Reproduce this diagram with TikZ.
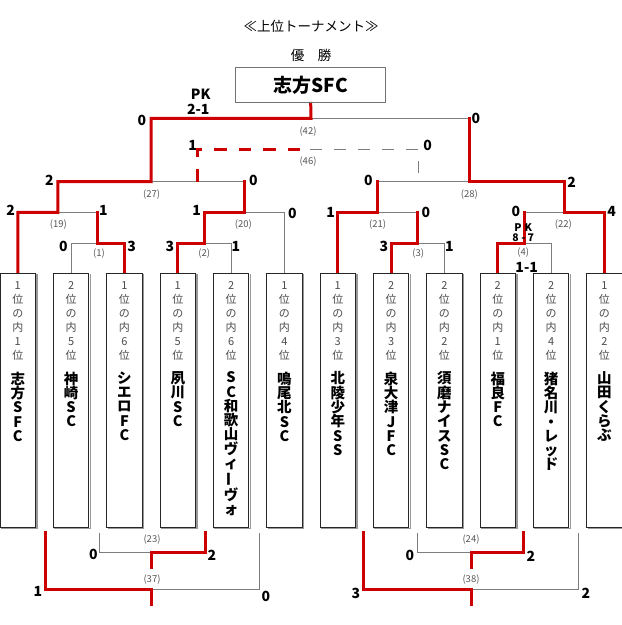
\documentclass[tikz,border=0pt]{standalone}
\usepackage{fontspec}
\newfontfamily\jp{Noto Sans CJK JP}
\usetikzlibrary{backgrounds}
\definecolor{wred}{RGB}{204,0,0}
\definecolor{lgray}{RGB}{125,125,125}
\definecolor{numgray}{RGB}{85,85,85}
\newcommand\tatebar{\rotatebox[origin=c]{90}{ー}}
\tikzset{
  win/.style={draw=wred, line width=3pt, line cap=rect, line join=miter},
  lose/.style={draw=lgray, line width=1.2pt},
  windash/.style={draw=wred, line width=3pt, dash pattern=on 12.5pt off 12pt},
  losedash/.style={draw=lgray, line width=1.2pt, dash pattern=on 12.3pt off 11.7pt},
  score/.style={font=\jp\bfseries\fontsize{14}{14}\selectfont, inner sep=0pt},
  small/.style={font=\jp\bfseries\fontsize{10.5}{11}\selectfont, inner sep=0pt},
  mno/.style={font=\jp\fontsize{9.5}{10}\selectfont, text=numgray, inner sep=0pt},
  teambox/.style={draw=black!85, line width=0.9pt, minimum width=35.6pt, minimum height=254pt, inner sep=0pt, fill=white},
  shadowln/.style={draw=black!40, line width=1.3pt},
  rank/.style={font=\jp\fontsize{11}{14}\selectfont, text=black!70, align=center, inner sep=0pt, anchor=north},
  tname/.style={font=\jp\bfseries\fontsize{14.5}{14.3}\selectfont, align=center, inner sep=0pt, anchor=north},
}
\begin{document}
\begin{tikzpicture}[x=1pt,y=-1pt]
\useasboundingbox (0,0) rectangle (622,625);

% titles
\node[font=\jp\fontsize{13.5}{14}\selectfont, inner sep=0pt] (title) at (311,26.7) {≪上位トーナメント≫};
\node[font=\jp\fontsize{13.5}{14}\selectfont, inner sep=0pt] (yusho) at (311,55) {優　勝};
\node[draw=black!55, line width=1.5pt, minimum width=150pt, minimum height=35.4pt, inner sep=0pt,
      font=\jp\bfseries\fontsize{19}{19}\selectfont] (champ) at (310.7,85) {志方SFC};

% team boxes
\foreach \i/\r/\n in {
  1/{1\\位\\の\\内\\1\\位}/{志\\方\\S\\F\\C},
  2/{2\\位\\の\\内\\5\\位}/{神\\崎\\S\\C},
  3/{1\\位\\の\\内\\6\\位}/{シ\\エ\\ロ\\F\\C},
  4/{1\\位\\の\\内\\5\\位}/{夙\\川\\S\\C},
  5/{2\\位\\の\\内\\6\\位}/{S\\C\\和\\歌\\山\\ヴ\\ィ\\\tatebar\\ヴ\\ォ},
  6/{1\\位\\の\\内\\4\\位}/{鳴\\尾\\北\\S\\C},
  7/{1\\位\\の\\内\\3\\位}/{北\\陵\\少\\年\\S\\S},
  8/{2\\位\\の\\内\\3\\位}/{泉\\大\\津\\J\\F\\C},
  9/{2\\位\\の\\内\\2\\位}/{須\\磨\\ナ\\イ\\ス\\S\\C},
  10/{2\\位\\の\\内\\1\\位}/{福\\良\\F\\C},
  11/{2\\位\\の\\内\\4\\位}/{猪\\名\\川\\・\\レ\\ッ\\ド},
  12/{1\\位\\の\\内\\2\\位}/{山\\田\\く\\ら\\ぶ}}{
  \node[teambox] (b\i) at ({17.8+(\i-1)*53.33},400) {};
  \draw[shadowln] ([xshift=1pt,yshift=-1.5pt]b\i.north east) -- ([xshift=1pt,yshift=-0.8pt]b\i.south east) -- ([xshift=1.5pt,yshift=-0.8pt]b\i.south west);
  \node[rank] (r\i) at ({17.8+(\i-1)*53.33},281) {\r};
  \node[tname] (n\i) at ({17.8+(\i-1)*53.33},371.5) {\n};
}

% junction coordinates (top)
\coordinate (m1) at (97.8,243.3);
\coordinate (m2) at (204.4,243.3);
\coordinate (m3) at (417.8,243.3);
\coordinate (m4) at (524.4,243.3);
\coordinate (m19) at (57.8,212.3);
\coordinate (m20) at (244.4,212.3);
\coordinate (m21) at (377.8,212.3);
\coordinate (m22) at (564.4,212.3);
\coordinate (m27) at (151.1,181.7);
\coordinate (m28) at (469,181.7);
\coordinate (m42) at (311,118.3);
% third place (46)
\coordinate (t46a) at (197.8,181.7);
\coordinate (t46b) at (197.8,149.3);
\coordinate (t46c) at (300,149.3);
\coordinate (t46d) at (310,149.3);
\coordinate (t46e) at (418.3,149.3);
\coordinate (t46f) at (418.3,161);
\coordinate (t46g) at (418.3,173);
% bottom
\coordinate (u23l) at (99.3,532.7);
\coordinate (u23r) at (205,532.7);
\coordinate (u23m) at (151.7,552.7);
\coordinate (u23d) at (151.7,567.7);
\coordinate (u37l) at (45,532.7);
\coordinate (u37r) at (259.3,532.7);
\coordinate (u37m) at (151.7,589.3);
\coordinate (u37d) at (151.7,604.3);
\coordinate (u24l) at (417.7,532.7);
\coordinate (u24r) at (523.7,532.7);
\coordinate (u24m) at (471,552.7);
\coordinate (u24d) at (471,567.7);
\coordinate (u38l) at (363.3,532.7);
\coordinate (u38r) at (578.3,532.7);
\coordinate (u38m) at (471,589.3);
\coordinate (u38d) at (471,604.3);

\begin{scope}[on background layer]
% losing (gray) lines
\draw[lose] (b2.north) |- (m1);
\draw[lose] (b5.north) |- (m2);
\draw[lose] (b9.north) |- (m3);
\draw[lose] (b11.north) |- (m4);
\draw[lose] (m19) -- (m1 |- m19);
\draw[lose] (m20) -| (b6.north);
\draw[lose] (m21) -- (m3 |- m21);
\draw[lose] (m4 |- m22) -- (m22);
\draw[lose] (m27) -- (m20 |- m27);
\draw[lose] (m21 |- m28) -- (m28);
\draw[lose] (m42) -- (m28 |- m42);
\draw[lose] (u23l) |- (u23m);
\draw[lose] (u37m) -| (u37r);
\draw[lose] (u24l) |- (u24m);
\draw[lose] (u38m) -| (u38r);
\draw[losedash] (t46d) -- (t46e);
\draw[lose] (t46f) -- (t46g);
% winning (red) lines
\draw[win] (b1.north) |- (m19) -- (m19 |- m27) -- (m27) -- (m27 |- m42) -- (m42) -- (champ.south);
\draw[win] (b3.north) |- (m1) -- (m1 |- m19);
\draw[win] (b4.north) |- (m2) -- (m2 |- m20) -- (m20) -- (m20 |- m27);
\draw[win] (b12.north) |- (m22) -- (m22 |- m28) -- (m28) -- (m28 |- m42);
\draw[win] (b7.north) |- (m21) -- (m21 |- m28);
\draw[win] (b8.north) |- (m3) -- (m3 |- m21);
\draw[win] (b10.north) |- (m4) -- (m4 |- m22);
\draw[win] (u23r) |- (u23m) -- (u23d);
\draw[win] (u37l) |- (u37m) -- (u37d);
\draw[win] (u24r) |- (u24m) -- (u24d);
\draw[win] (u38l) |- (u38m) -- (u38d);
\draw[windash] (t46a) -- (t46b) -- (t46c);
\end{scope}

% match numbers
\node[mno] (n42) at (308,131.5) {(42)};
\node[mno] (n46) at (308,162) {(46)};
\node[mno] (n27) at (151.7,195) {(27)};
\node[mno] (n28) at (469.3,195) {(28)};
\node[mno] (n19) at (58.3,224.3) {(19)};
\node[mno] (n20) at (243.3,224.3) {(20)};
\node[mno] (n21) at (377.7,224.3) {(21)};
\node[mno] (n22) at (563.3,224.3) {(22)};
\node[mno] (n1) at (99,254) {(1)};
\node[mno] (n2) at (204.3,254) {(2)};
\node[mno] (n3) at (418.3,254) {(3)};
\node[mno] (n4) at (523.3,252.7) {(4)};
\node[mno] (n23) at (152,539.3) {(23)};
\node[mno] (n24) at (471,539.3) {(24)};
\node[mno] (n37) at (152,579.3) {(37)};
\node[mno] (n38) at (471,579.3) {(38)};

% scores
\node[score] (pk42a) at (200.7,94) {PK};
\node[score] (pk42b) at (198.3,109.3) {2-1};
\node[score] (s42l) at (142,120) {0};
\node[score] (s42r) at (476,118.5) {0};
\node[score] (s46l) at (192.7,145) {1};
\node[score] (s46r) at (427.7,145) {0};
\node[score] (s27l) at (49.3,180) {2};
\node[score] (s27r) at (253.3,180.7) {0};
\node[score] (s28l) at (368.3,180) {0};
\node[score] (s28r) at (571.7,182) {2};
\node[score] (s19l) at (10.7,210) {2};
\node[score] (s19r) at (103.3,210.7) {1};
\node[score] (s20l) at (196.7,210) {1};
\node[score] (s20r) at (292.3,213) {0};
\node[score] (s21l) at (330.7,212) {1};
\node[score] (s21r) at (426,212) {0};
\node[score] (s22l) at (516,211) {0};
\node[score] (s22r) at (611.7,211) {4};
\node[score] (s1l) at (63.3,246) {0};
\node[score] (s1r) at (131.7,246) {3};
\node[score] (s2l) at (170,246) {3};
\node[score] (s2r) at (236,246) {1};
\node[score] (s3l) at (384,246) {3};
\node[score] (s3r) at (449.3,246) {1};
\node[small] (pk4a) at (523.3,227.7) {P\hspace{3pt}K};
\node[small] (pk4b) at (523.3,237.3) {8 - 7};
\node[score] (s4) at (526.7,267.5) {1-1};
\node[score] (s23l) at (93.3,554.3) {0};
\node[score] (s23r) at (212,555.7) {2};
\node[score] (s37l) at (38,591.7) {1};
\node[score] (s37r) at (266,596) {0};
\node[score] (s24l) at (410,555) {0};
\node[score] (s24r) at (531,556) {2};
\node[score] (s38l) at (356,593.3) {3};
\node[score] (s38r) at (586,593) {2};
\end{tikzpicture}
\end{document}
